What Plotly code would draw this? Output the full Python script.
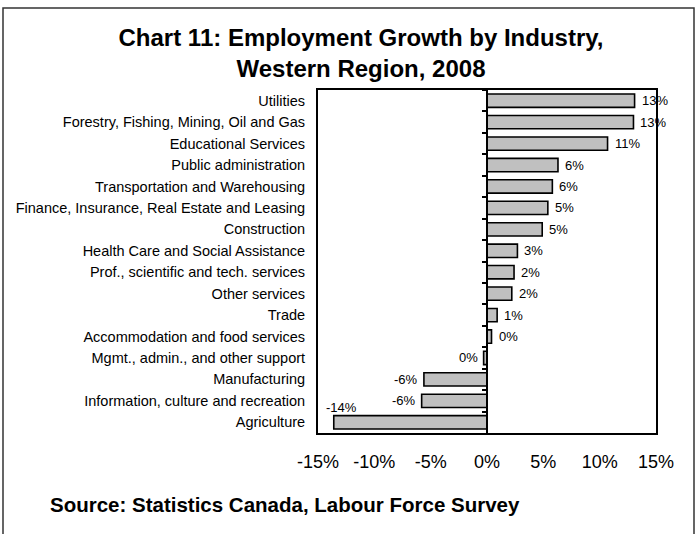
import plotly.graph_objects as go

# Employment growth by industry, Western Region, 2008 (percent)
industries = [
    "Utilities",
    "Forestry, Fishing, Mining, Oil and Gas",
    "Educational Services",
    "Public administration",
    "Transportation and Warehousing",
    "Finance, Insurance, Real Estate and Leasing",
    "Construction",
    "Health Care and Social Assistance",
    "Prof., scientific and tech. services",
    "Other services",
    "Trade",
    "Accommodation and food services",
    "Mgmt., admin., and other support",
    "Manufacturing",
    "Information, culture and recreation",
    "Agriculture",
]
growth = [13.1, 13.0, 10.7, 6.3, 5.8, 5.4, 4.9, 2.7, 2.4, 2.2, 0.9, 0.4, -0.3, -5.6, -5.8, -13.6]

tick_vals = [-15, -10, -5, 0, 5, 10, 15]
tick_text = ["-15%", "-10%", "-5%", "0%", "5%", "10%", "15%"]

FONT = "Liberation Sans, Arial, sans-serif"

fig = go.Figure()
fig.add_trace(go.Bar(
    x=growth,
    y=industries,
    orientation="h",
    marker=dict(color="#c0c0c0", line=dict(color="black", width=1.6)),
    hoverinfo="x+y",
    showlegend=False,
))

# value labels, rounded to whole percents
annotations = []
for name, v in zip(industries, growth):
    label = f"{int(round(v))}%"
    if v >= 0:
        a = dict(xanchor="left", xshift=5, yshift=0)
    elif v > -10:
        a = dict(xanchor="right", xshift=-4, yshift=0)
    else:
        # long negative bar: put label above the bar end
        a = dict(xanchor="center", xshift=8, yshift=15)
    annotations.append(dict(
        x=v, y=name, xref="x", yref="y", text=label, showarrow=False,
        font=dict(family=FONT, size=13, color="black"), **a,
    ))

annotations.append(dict(
    x=-0.799, y=-0.207, xref="paper", yref="paper",
    text="<b>Source: Statistics Canada, Labour Force Survey</b>",
    showarrow=False, xanchor="left", yanchor="middle",
    font=dict(family=FONT, size=20.5, color="black"),
))

n = len(industries)
fig.update_layout(
    width=697, height=534,
    margin=dict(l=318, r=41, t=90, b=101),
    paper_bgcolor="white", plot_bgcolor="white",
    bargap=0.38,
    font=dict(family=FONT, color="black"),
    title=dict(
        text="<b>Chart 11: Employment Growth by Industry,<br>Western Region, 2008</b>",
        x=361 / 697, xref="container", xanchor="center",
        y=1 - 46 / 534, yref="container", yanchor="top",
        font=dict(family=FONT, size=24, color="black"),
    ),
    xaxis=dict(
        range=[-15, 15], tickvals=tick_vals, ticktext=tick_text,
        showgrid=False, zeroline=False, ticks="",
        showline=True, linecolor="black", linewidth=2, mirror=True,
        tickfont=dict(family=FONT, size=18, color="black"),
        ticklabelstandoff=11,
    ),
    yaxis=dict(
        type="category", categoryorder="array", categoryarray=industries,
        range=[n - 0.5, -0.5],
        showgrid=False, ticks="",
        showline=True, linecolor="black", linewidth=2, mirror=True,
        tickfont=dict(family=FONT, size=14.5, color="black"),
        ticklabelstandoff=8,
    ),
    # axis line at zero with category-boundary ticks
    yaxis2=dict(
        type="category", categoryorder="array", categoryarray=industries,
        range=[n - 0.5, -0.5], overlaying="y", anchor="free", position=0.5,
        side="left", showgrid=False, showticklabels=False,
        ticks="outside", tickson="boundaries", ticklen=4, tickwidth=1.5,
        tickcolor="black", showline=True, linecolor="black", linewidth=1.5,
    ),
    annotations=annotations,
    shapes=[dict(
        type="rect", xref="paper", yref="paper",
        x0=(3 - 318) / 338, x1=(694 - 318) / 338,
        y0=(433 - 545) / 343, y1=(433 - 8) / 343,
        line=dict(color="#333333", width=1.5), fillcolor="rgba(0,0,0,0)",
        layer="below",
    )],
)

# invisible trace so the zero-line axis carries the same categories
fig.add_trace(go.Scatter(
    x=[0] * n, y=industries, yaxis="y2", mode="markers",
    marker=dict(opacity=0), hoverinfo="skip", showlegend=False,
))

fig.write_html("out.html")
